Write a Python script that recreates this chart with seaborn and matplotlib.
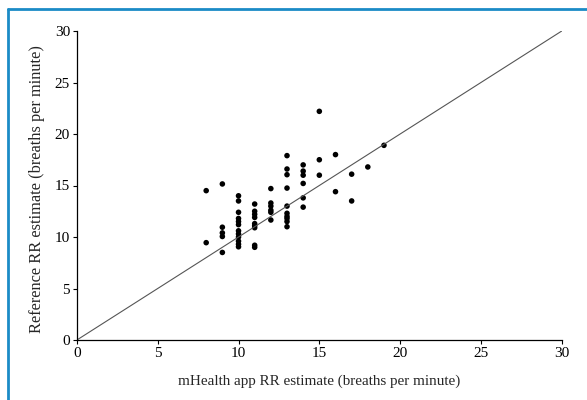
import numpy as np
import pandas as pd
import seaborn as sns
import matplotlib.pyplot as plt
from matplotlib.lines import Line2D

# mHealth app estimate (x) and reference estimate (y), breaths per minute
app_rr = (
    [8] * 2 + [9] * 5 + [10] * 12 + [11] * 9 + [12] * 6 + [13] * 10
    + [14] * 6 + [15] * 3 + [16] * 2 + [17] * 2 + [18] + [19]
)
ref_rr = [
    14.5, 9.45,
    15.15, 10.95, 10.4, 10.05, 8.5,
    14.0, 13.5, 12.4, 11.8, 11.5, 11.2, 10.6, 10.3, 10.0, 9.6, 9.3, 9.05,
    13.2, 12.5, 12.2, 11.9, 11.3, 11.1, 10.9, 9.2, 9.0,
    14.7, 13.3, 13.0, 12.6, 12.4, 11.65,
    17.9, 16.6, 16.05, 14.75, 13.0, 12.3, 12.0, 11.8, 11.5, 11.0,
    17.0, 16.4, 16.0, 15.2, 13.8, 12.9,
    22.2, 17.5, 16.0,
    18.0, 14.4,
    16.1, 13.5,
    16.8,
    18.9,
]
identity = [0, 30]
ticks = [0, 5, 10, 15, 20, 25, 30]

data = pd.DataFrame({"app": app_rr, "ref": ref_rr})

sns.set_style("ticks")
plt.rcParams["font.family"] = ["Liberation Serif", "DejaVu Serif"]

fig = plt.figure(figsize=(5.87, 4.0), dpi=100)
ax = fig.add_axes([0.131, 0.15, 0.826, 0.7725])

# line of equality
ax.plot(identity, identity, color="#555555", linewidth=0.8)
sns.scatterplot(data=data, x="app", y="ref", color="black", s=16,
                edgecolor="none", ax=ax)

ax.set_xlim(0, 30)
ax.set_ylim(0, 30)
ax.set_xticks(ticks)
ax.set_yticks(ticks)
ax.tick_params(direction="out", length=3, width=0.8, labelsize=11, pad=2,
               colors="black")
ax.set_xlabel("mHealth app RR estimate (breaths per minute)", fontsize=10.9)
ax.set_ylabel("Reference RR estimate (breaths per minute)", fontsize=11.8)
ax.xaxis.set_label_coords(0.5, -0.113)
ax.yaxis.set_label_coords(-0.066, 0.49)
sns.despine(ax=ax)
for sp in ["left", "bottom"]:
    ax.spines[sp].set_linewidth(0.9)
    ax.spines[sp].set_color("black")

# blue frame edges of the figure panel
blue = "#1b8bc6"
fig.add_artist(Line2D([8 / 587, 8 / 587], [0, 1 - 9 / 400],
                      transform=fig.transFigure, color=blue, linewidth=2))
fig.add_artist(Line2D([8 / 587, 1], [1 - 9 / 400, 1 - 9 / 400],
                      transform=fig.transFigure, color=blue, linewidth=2))

fig.savefig("out.png", dpi=100)
